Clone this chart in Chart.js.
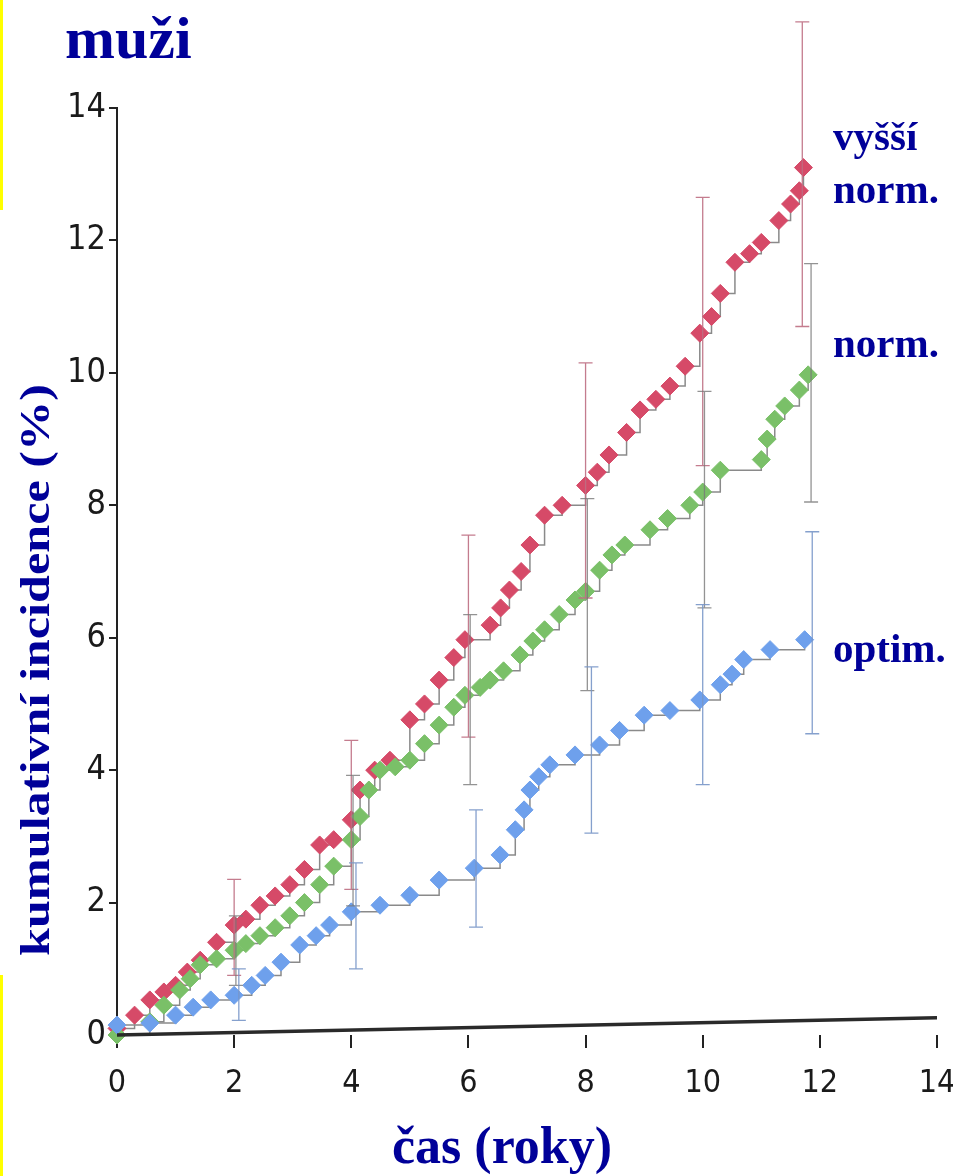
<!DOCTYPE html>
<html><head><meta charset="utf-8">
<script src="https://cdn.jsdelivr.net/npm/chart.js@4.4.1/dist/chart.umd.min.js"></script>
<style>html,body{margin:0;padding:0;background:#fff;}canvas{display:block;}</style>
</head><body>
<canvas id="c" width="953" height="1176"></canvas>
<script>
// ---- data ----
const xTicks = [0, 2, 4, 6, 8, 10, 12, 14];
const yTicks = [0, 2, 4, 6, 8, 10, 12, 14];

const highX = [0,0.3,0.56,0.8,1.0,1.2,1.42,1.7,2.0,2.2,2.44,2.7,2.95,3.2,3.46,3.7,4.0,4.15,4.4,4.66,5.0,5.25,5.5,5.75,5.94,6.37,6.55,6.7,6.9,7.05,7.3,7.6,8.0,8.2,8.4,8.7,8.93,9.2,9.44,9.7,9.95,10.15,10.3,10.55,10.8,11.0,11.3,11.5,11.65,11.72];
const highY = [0.1,0.3,0.53,0.65,0.75,0.95,1.13,1.4,1.66,1.75,1.96,2.1,2.27,2.5,2.87,2.95,3.25,3.7,4.0,4.15,4.76,5.0,5.36,5.7,5.97,6.19,6.45,6.72,7.0,7.4,7.85,8.0,8.3,8.5,8.76,9.1,9.44,9.6,9.8,10.1,10.6,10.85,11.2,11.67,11.8,11.97,12.3,12.55,12.75,13.1];

const normX = [0,0.56,0.8,1.07,1.25,1.42,1.7,2.0,2.2,2.44,2.7,2.95,3.2,3.46,3.7,4.0,4.15,4.3,4.49,4.75,5.0,5.25,5.5,5.75,5.94,6.2,6.37,6.6,6.88,7.1,7.3,7.55,7.82,8.0,8.24,8.45,8.67,9.1,9.4,9.78,10.0,10.3,11.0,11.1,11.23,11.4,11.65,11.8];
const normY = [0,0.2,0.45,0.68,0.85,1.06,1.15,1.28,1.38,1.5,1.62,1.8,2.0,2.27,2.55,2.95,3.3,3.7,4.0,4.05,4.15,4.4,4.68,4.95,5.13,5.25,5.36,5.5,5.74,5.95,6.12,6.35,6.57,6.7,7.02,7.25,7.4,7.63,7.8,8.0,8.2,8.53,8.69,9.0,9.3,9.5,9.74,9.97];

const optX = [0,0.56,1.0,1.3,1.6,2.0,2.3,2.53,2.8,3.12,3.4,3.63,4.0,4.49,5.0,5.5,6.1,6.54,6.8,6.95,7.05,7.2,7.39,7.82,8.24,8.58,9.0,9.44,9.95,10.3,10.5,10.7,11.15,11.74];
const optY = [0.15,0.18,0.3,0.42,0.53,0.6,0.75,0.9,1.1,1.36,1.5,1.66,1.86,1.96,2.11,2.34,2.52,2.72,3.1,3.4,3.7,3.9,4.08,4.23,4.38,4.6,4.83,4.9,5.06,5.29,5.45,5.67,5.82,5.97];

// confidence intervals
const highCiX  = [2, 4, 6, 8, 10, 11.7];
const highCiLo = [0.9, 2.2, 4.5, 6.6, 8.6, 10.7];
const highCiHi = [2.35, 4.45, 7.55, 10.15, 12.65, 15.3];
const normCiX  = [2.03, 4.03, 6.03, 8.03, 10.03, 11.85];
const normCiLo = [0.75, 1.95, 3.78, 5.2, 6.45, 8.05];
const normCiHi = [1.8, 3.92, 6.35, 8.1, 9.72, 11.65];
const optCiX   = [2.08, 4.08, 6.13, 8.1, 10.0, 11.87];
const optCiLo  = [0.22, 1.0, 1.63, 3.05, 3.78, 4.55];
const optCiHi  = [1.0, 2.6, 3.4, 5.56, 6.5, 7.6];

const baseX = [0, 14];
const baseY = [0, 0.26];

const RED = 'rgb(214,74,104)', GREEN = 'rgb(122,192,104)', BLUE = 'rgb(110,160,236)';
const NAVY = '#000099';

const pts = (xs, ys) => xs.map((x, i) => ({x, y: ys[i]}));

const ciSets = [
  {x: highCiX, lo: highCiLo, hi: highCiHi, color: 'rgba(190,110,130,0.9)'},
  {x: normCiX, lo: normCiLo, hi: normCiHi, color: 'rgba(120,120,120,0.8)'},
  {x: optCiX, lo: optCiLo, hi: optCiHi, color: 'rgba(120,150,200,0.9)'}
];

const ciPlugin = {
  id: 'ci',
  afterDatasetsDraw(chart) {
    const {ctx, scales: {x, y}} = chart;
    ctx.save();
    ciSets.forEach(s => {
      ctx.strokeStyle = s.color;
      ctx.lineWidth = 1.3;
      s.x.forEach((xv, i) => {
        const px = x.getPixelForValue(xv);
        const plo = y.getPixelForValue(s.lo[i]);
        const phi = y.getPixelForValue(s.hi[i]);
        ctx.beginPath();
        ctx.moveTo(px, plo); ctx.lineTo(px, phi);
        ctx.moveTo(px - 7, plo); ctx.lineTo(px + 7, plo);
        ctx.moveTo(px - 7, phi); ctx.lineTo(px + 7, phi);
        ctx.stroke();
      });
    });
    ctx.restore();
  }
};

const textPlugin = {
  id: 'texts',
  beforeDraw(chart) {
    const {ctx} = chart;
    ctx.save();
    ctx.fillStyle = '#fff';
    ctx.fillRect(0, 0, chart.width, chart.height);
    ctx.fillStyle = '#ffff00';
    ctx.fillRect(0, 0, 3, 210);
    ctx.fillRect(0, 975, 3, 201);
    ctx.restore();
  },
  afterDraw(chart) {
    const {ctx} = chart;
    ctx.save();
    ctx.fillStyle = NAVY;
    ctx.textBaseline = 'alphabetic';
    ctx.textAlign = 'left';
    ctx.font = 'bold 60px "Liberation Serif", "Times New Roman", serif';
    ctx.fillText('muži', 65, 58);

    ctx.font = 'bold 41px "Liberation Serif", "Times New Roman", serif';
    ctx.fillText('vyšší', 833, 150);
    ctx.fillText('norm.', 833, 203);
    ctx.fillText('norm.', 833, 357);
    ctx.fillText('optim.', 833, 662);

    ctx.font = 'bold 52px "Liberation Serif", "Times New Roman", serif';
    ctx.textAlign = 'center';
    ctx.fillText('čas (roky)', 502, 1163);

    ctx.translate(49, 670);
    ctx.rotate(-Math.PI / 2);
    ctx.font = 'bold 42px "Liberation Serif", "Times New Roman", serif';
    const t = 'kumulativní incidence (%)';
    const w = ctx.measureText(t).width;
    ctx.scale(572 / w, 1);
    ctx.fillText(t, 0, 0);
    ctx.restore();
  }
};

const fam = '"Liberation Sans Narrow", "DejaVu Sans Condensed", "Arial Narrow", sans-serif';

new Chart(document.getElementById('c'), {
  type: 'scatter',
  data: {
    datasets: [
      {label: 'baseline', data: pts(baseX, baseY), showLine: true, borderColor: '#2a2a2a', borderWidth: 3.5, pointRadius: 0},
      {label: 'optim.', data: pts(optX, optY), showLine: true, stepped: true, borderColor: '#8a8a8a', borderWidth: 1.5,
        pointStyle: 'rectRot', pointRadius: 9, pointBackgroundColor: BLUE, pointBorderColor: BLUE, pointBorderWidth: 1},
      {label: 'norm.', data: pts(normX, normY), showLine: true, stepped: true, borderColor: '#8a8a8a', borderWidth: 1.5,
        pointStyle: 'rectRot', pointRadius: 9, pointBackgroundColor: GREEN, pointBorderColor: GREEN, pointBorderWidth: 1},
      {label: 'vyšší norm.', data: pts(highX, highY), showLine: true, stepped: true, borderColor: '#8a8a8a', borderWidth: 1.5,
        pointStyle: 'rectRot', pointRadius: 9, pointBackgroundColor: RED, pointBorderColor: RED, pointBorderWidth: 1}
    ]
  },
  options: {
    responsive: false,
    animation: false,
    devicePixelRatio: 1,
    clip: false,
    layout: {padding: {top: 108, right: 16, left: 0, bottom: 0}},
    plugins: {legend: {display: false}, tooltip: {enabled: false}},
    scales: {
      x: {
        type: 'linear', min: 0, max: 14,
        afterBuildTicks: s => { s.ticks = xTicks.map(v => ({value: v})); },
        afterFit: s => { s.height = 141; s.paddingLeft = 0; s.paddingRight = 0; },
        border: {display: false},
        grid: {drawOnChartArea: false, drawTicks: true, tickLength: 13, color: '#222', lineWidth: 2},
        ticks: {font: {family: fam, size: 32}, color: '#1a1a1a', padding: 16, maxRotation: 0}
      },
      y: {
        type: 'linear', min: 0, max: 14,
        afterBuildTicks: s => { s.ticks = yTicks.map(v => ({value: v})); },
        afterFit: s => { s.width = 117; s.paddingTop = 0; s.paddingBottom = 0; },
        border: {display: true, color: '#222', width: 2},
        grid: {drawOnChartArea: false, drawTicks: true, tickLength: 8, color: '#222', lineWidth: 2},
        ticks: {font: {family: fam, size: 34}, color: '#1a1a1a', padding: 3}
      }
    }
  },
  plugins: [ciPlugin, textPlugin]
});
</script>
</body></html>
